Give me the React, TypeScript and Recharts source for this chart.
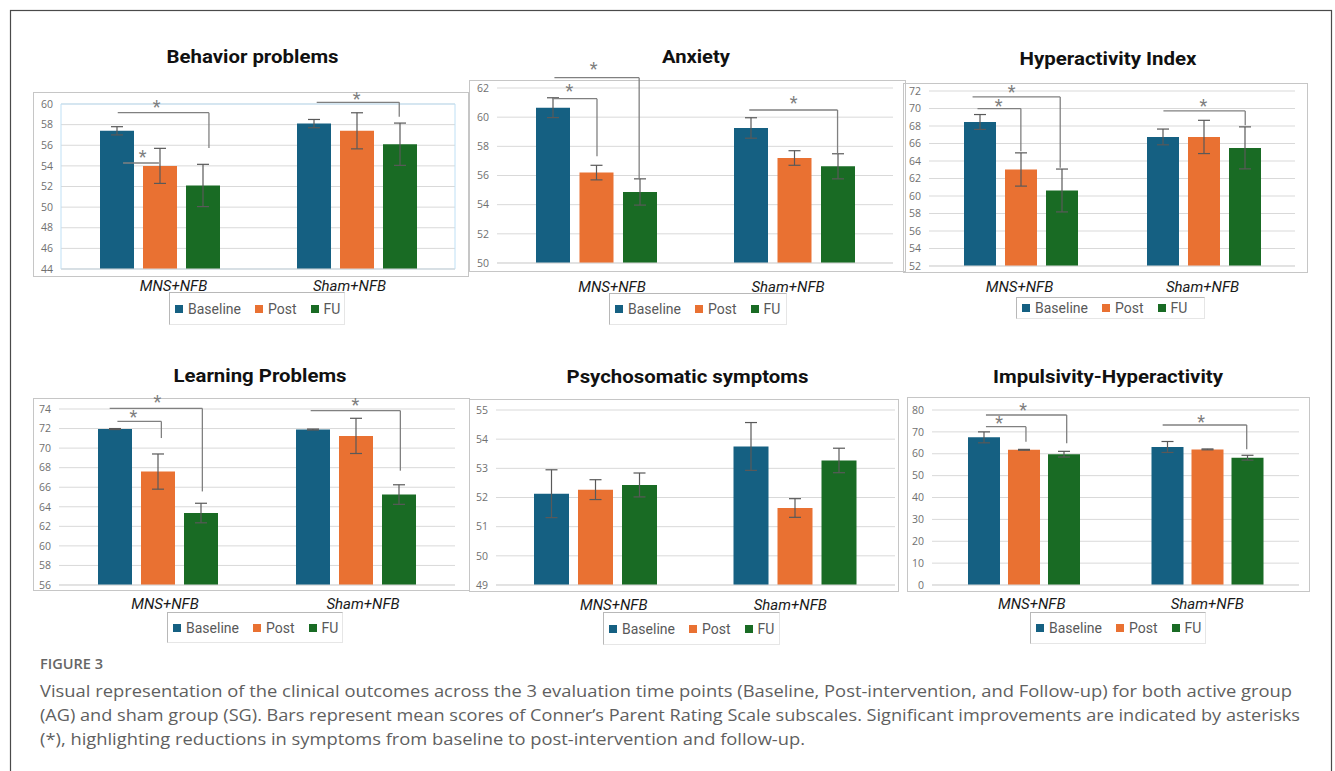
import React from 'react';
import {
  BarChart,
  Bar,
  XAxis,
  YAxis,
  CartesianGrid,
  ErrorBar,
  Legend,
  ReferenceLine,
  ReferenceDot,
  ReferenceArea,
} from 'recharts';

// ---------- shared ----------
const categories = ['MNS+NFB', 'Sham+NFB'];
const seriesNames = ['Baseline', 'Post', 'FU'];
const seriesColors = ['#156082', '#E97132', '#196B24'];

// ---------- Behavior problems ----------
const behaviorBaseline = [57.4, 58.1];
const behaviorBaselineErr = [0.4, 0.4];
const behaviorPost = [54.0, 57.4];
const behaviorPostErr = [1.7, 1.75];
const behaviorFU = [52.1, 56.1];
const behaviorFUErr = [2.05, 2.05];
const behaviorTicks = [44, 46, 48, 50, 52, 54, 56, 58, 60];

// ---------- Anxiety ----------
const anxietyBaseline = [60.65, 59.26];
const anxietyBaselineErr = [0.68, 0.7];
const anxietyPost = [56.2, 57.2];
const anxietyPostErr = [0.5, 0.5];
const anxietyFU = [54.87, 56.63];
const anxietyFUErr = [0.9, 0.86];
const anxietyTicks = [50, 52, 54, 56, 58, 60, 62];

// ---------- Hyperactivity Index ----------
const hyperBaseline = [68.46, 66.75];
const hyperBaselineErr = [0.85, 0.9];
const hyperPost = [63.03, 66.75];
const hyperPostErr = [1.9, 1.9];
const hyperFU = [60.63, 65.5];
const hyperFUErr = [2.45, 2.4];
const hyperTicks = [52, 54, 56, 58, 60, 62, 64, 66, 68, 70, 72];

// ---------- Learning Problems ----------
const learningBaseline = [71.95, 71.9];
const learningBaselineErr = [0.05, 0.05];
const learningPost = [67.6, 71.25];
const learningPostErr = [1.8, 1.8];
const learningFU = [63.36, 65.25];
const learningFUErr = [1.0, 1.0];
const learningTicks = [56, 58, 60, 62, 64, 66, 68, 70, 72, 74];

// ---------- Psychosomatic symptoms ----------
const psychoBaseline = [52.13, 53.75];
const psychoBaselineErr = [0.82, 0.82];
const psychoPost = [52.27, 51.64];
const psychoPostErr = [0.34, 0.32];
const psychoFU = [52.43, 53.27];
const psychoFUErr = [0.41, 0.42];
const psychoTicks = [49, 50, 51, 52, 53, 54, 55];

// ---------- Impulsivity-Hyperactivity ----------
const impulsBaseline = [67.5, 63.1];
const impulsBaselineErr = [2.5, 2.5];
const impulsPost = [61.8, 62.0];
const impulsPostErr = [0.2, 0.2];
const impulsFU = [59.8, 58.2];
const impulsFUErr = [1.3, 1.1];
const impulsTicks = [0, 10, 20, 30, 40, 50, 60, 70, 80];

// significance brackets, in data units (x: 0..2 across the two groups)
type Bracket = { x1: number; x2: number; y: number; drop: number | null; sx: number; sy: number };
const behaviorBrackets: Bracket[] = [
  { x1: 0.288, x2: 0.751, y: 59.16, drop: 55.73, sx: 0.486, sy: 59.9 },
  { x1: 0.315, x2: 0.497, y: 54.28, drop: null, sx: 0.415, sy: 55.05 },
  { x1: 1.298, x2: 1.717, y: 60.16, drop: 58.77, sx: 1.501, sy: 60.65 },
];
const anxietyBrackets: Bracket[] = [
  { x1: 0.29, x2: 0.718, y: 62.71, drop: 55.79, sx: 0.4875, sy: 63.44 },
  { x1: 0.28, x2: 0.505, y: 61.27, drop: 57.32, sx: 0.366, sy: 61.96 },
  { x1: 1.274, x2: 1.72, y: 60.49, drop: 57.5, sx: 1.498, sy: 61.14 },
];
const hyperBrackets: Bracket[] = [
  { x1: 0.238, x2: 0.717, y: 71.32, drop: 63.22, sx: 0.452, sy: 72.08 },
  { x1: 0.265, x2: 0.502, y: 69.99, drop: 65.12, sx: 0.38, sy: 70.56 },
  { x1: 1.281, x2: 1.728, y: 69.72, drop: 68.09, sx: 1.5, sy: 70.48 },
];
const learningBrackets: Bracket[] = [
  { x1: 0.256, x2: 0.724, y: 74.06, drop: 65.57, sx: 0.497, sy: 74.88 },
  { x1: 0.295, x2: 0.517, y: 72.73, drop: 71.03, sx: 0.376, sy: 73.35 },
  { x1: 1.271, x2: 1.724, y: 73.83, drop: 67.69, sx: 1.497, sy: 74.61 },
];
const psychoBrackets: Bracket[] = [];
const impulsBrackets: Bracket[] = [
  { x1: 0.294, x2: 0.734, y: 77.71, drop: 64.78, sx: 0.497, sy: 81.05 },
  { x1: 0.294, x2: 0.512, y: 72.37, drop: 65.51, sx: 0.366, sy: 74.97 },
  { x1: 1.257, x2: 1.715, y: 73.14, drop: 62.03, sx: 1.466, sy: 75.43 },
];

const captionLines = [
  'Visual representation of the clinical outcomes across the 3 evaluation time points (Baseline, Post-intervention, and Follow-up) for both active group',
  '(AG) and sham group (SG). Bars represent mean scores of Conner\u2019s Parent Rating Scale subscales. Significant improvements are indicated by asterisks',
  '(*), highlighting reductions in symptoms from baseline to post-intervention and follow-up.',
];

function buildRows(b: number[], be: number[], p: number[], pe: number[], f: number[], fe: number[]) {
  return categories.map((name, i) => ({
    name,
    baseline: b[i],
    baselineErr: be[i],
    post: p[i],
    postErr: pe[i],
    fu: f[i],
    fuErr: fe[i],
  }));
}

// ---------- layout (positions/styles only) ----------
const panels = [
  {
    title: 'Behavior problems', titleX: 252.5, titleY: 62.5, titleW: 172,
    data: buildRows(behaviorBaseline, behaviorBaselineErr, behaviorPost, behaviorPostErr, behaviorFU, behaviorFUErr),
    ticks: behaviorTicks, brackets: behaviorBrackets,
    plot: { l: 61, t: 104, w: 394, h: 165 }, barSize: 34, barGap: 9,
    tickDx: [14, -7], tickDy: 17,
    legend: { l: 169, t: 292, w: 176, h: 33 },
    frame: { l: 33, t: 92, r: 468, b: 276 }, plotBorder: true,
  },
  {
    title: 'Anxiety', titleX: 696, titleY: 62.5, titleW: 68,
    data: buildRows(anxietyBaseline, anxietyBaselineErr, anxietyPost, anxietyPostErr, anxietyFU, anxietyFUErr),
    ticks: anxietyTicks, brackets: anxietyBrackets,
    plot: { l: 497, t: 88, w: 396, h: 175 }, barSize: 34, barGap: 9.5,
    tickDx: [16, -6], tickDy: 24,
    legend: { l: 609, t: 293, w: 178, h: 32 },
    frame: { l: 469, t: 80, r: 905, b: 271 }, plotBorder: false,
  },
  {
    title: 'Hyperactivity Index', titleX: 1108, titleY: 65, titleW: 177,
    data: buildRows(hyperBaseline, hyperBaselineErr, hyperPost, hyperPostErr, hyperFU, hyperFUErr),
    ticks: hyperTicks, brackets: hyperBrackets,
    plot: { l: 929, t: 91, w: 366, h: 175 }, barSize: 32, barGap: 9,
    tickDx: [-1, -1], tickDy: 21,
    legend: { l: 1016, t: 297, w: 189, h: 22 },
    frame: { l: 903, t: 83, r: 1307, b: 272 }, plotBorder: false,
  },
  {
    title: 'Learning Problems', titleX: 260, titleY: 381.5, titleW: 173,
    data: buildRows(learningBaseline, learningBaselineErr, learningPost, learningPostErr, learningFU, learningFUErr),
    ticks: learningTicks, brackets: learningBrackets,
    plot: { l: 59, t: 409, w: 396, h: 176 }, barSize: 34, barGap: 9,
    tickDx: [7, 7], tickDy: 19,
    legend: { l: 167, t: 612, w: 176, h: 31 },
    frame: { l: 33, t: 398, r: 469, b: 590 }, plotBorder: false,
  },
  {
    title: 'Psychosomatic symptoms', titleX: 687.5, titleY: 383, titleW: 242,
    data: buildRows(psychoBaseline, psychoBaselineErr, psychoPost, psychoPostErr, psychoFU, psychoFUErr),
    ticks: psychoTicks, brackets: psychoBrackets,
    plot: { l: 496, t: 410, w: 399, h: 175 }, barSize: 35, barGap: 9,
    tickDx: [18, -5], tickDy: 20,
    legend: { l: 603, t: 612, w: 177, h: 33 },
    frame: { l: 469, t: 399, r: 898, b: 591 }, plotBorder: false,
  },
  {
    title: 'Impulsivity-Hyperactivity', titleX: 1108, titleY: 383, titleW: 230,
    data: buildRows(impulsBaseline, impulsBaselineErr, impulsPost, impulsPostErr, impulsFU, impulsFUErr),
    ticks: impulsTicks, brackets: impulsBrackets,
    plot: { l: 932, t: 410, w: 367, h: 175 }, barSize: 32, barGap: 8,
    tickDx: [8, 0], tickDy: 19,
    legend: { l: 1030, t: 612, w: 176, h: 32 },
    frame: { l: 907, t: 397, r: 1309, b: 591 }, plotBorder: false,
  },
];

const AXIS_W = 40;
const TOP_M = 40;
const X_H = 30;
const BOTTOM_M = 50;
const RIGHT_M = 10;
const BRACKET_COLOR = '#808080';
// the hidden numeric axis runs 0..1 across the plot; bracket x values are in group units (0..2)
const GROUPS = 2;

const CatTick = (props: any) => {
  const { x, y, payload, index, offsX, offY } = props;
  return (
    <text
      x={x + ((offsX && offsX[index]) || 0)}
      y={y + offY}
      textAnchor="middle"
      dominantBaseline="central"
      fontSize={15}
      fontStyle="italic"
      fill="#1a1a1a"
      fontFamily="Roboto, 'Liberation Sans', sans-serif"
    >
      {payload.value}
    </text>
  );
};

const LegendBox = () => (
  <div
    style={{
      display: 'flex',
      alignItems: 'center',
      height: '100%',
      paddingLeft: 5,
      boxSizing: 'border-box',
    }}
  >
    {seriesNames.map((n, i) => (
      <span key={n} style={{ display: 'flex', alignItems: 'center', marginRight: 14 }}>
        <span style={{ display: 'inline-block', width: 8, height: 8, background: seriesColors[i], marginRight: 5 }} />
        <span style={{ fontSize: 14, color: '#595959', fontFamily: "Roboto, 'Liberation Sans', sans-serif", lineHeight: '16px' }}>
          {n}
        </span>
      </span>
    ))}
  </div>
);

const Star = (p: any) => (
  <text
    x={p.cx}
    y={p.cy + 8}
    textAnchor="middle"
    fontSize={18}
    fill="#7f7f7f"
    fontFamily="Roboto, 'Liberation Sans', sans-serif"
  >
    *
  </text>
);

function Panel({ cfg }: { cfg: any }) {
  const { plot } = cfg;
  const cx = plot.l - AXIS_W;
  const cy = plot.t - TOP_M;
  const cw = plot.w + AXIS_W + RIGHT_M;
  const ch = plot.h + TOP_M + X_H + BOTTOM_M;
  const domain = [cfg.ticks[0], cfg.ticks[cfg.ticks.length - 1]];
  const keys = ['baseline', 'post', 'fu'];
  return (
    <div style={{ position: 'absolute', left: cx, top: cy, width: cw, height: ch }}>
      <BarChart
        width={cw}
        height={ch}
        data={cfg.data}
        margin={{ top: TOP_M, right: RIGHT_M, bottom: BOTTOM_M, left: 0 }}
        barSize={cfg.barSize}
        barGap={cfg.barGap}
      >
        <CartesianGrid vertical={false} stroke="#d9d9d9" />
        <XAxis
          dataKey="name"
          height={X_H}
          tickLine={false}
          axisLine={{ stroke: '#d9d9d9' }}
          tickSize={0}
          tickMargin={0}
          interval={0}
          tick={<CatTick offsX={cfg.tickDx} offY={cfg.tickDy} />}
        />
        <XAxis xAxisId="num" type="number" domain={[0, 1]} hide allowDataOverflow />
        <YAxis
          width={AXIS_W}
          domain={domain}
          ticks={cfg.ticks}
          allowDataOverflow
          axisLine={false}
          tickLine={false}
          tickSize={0}
          tickMargin={8}
          interval={0}
          tick={{ fontSize: 10.5, fill: '#707070', fontFamily: "'Open Sans', 'Liberation Sans', sans-serif" }}
        />
        {cfg.plotBorder && (
          <ReferenceArea
            xAxisId="num"
            x1={0}
            x2={1}
            y1={domain[0]}
            y2={domain[1]}
            fill="none"
            fillOpacity={0}
            stroke="#bfe0f5"
            ifOverflow="visible"
          />
        )}
        {keys.map((k, i) => (
          <Bar key={k} dataKey={k} name={seriesNames[i]} fill={seriesColors[i]} isAnimationActive={false}>
            <ErrorBar dataKey={k + 'Err'} width={6} stroke="#595959" strokeWidth={1.2} />
          </Bar>
        ))}
        {cfg.brackets.map((b: Bracket, i: number) => (
          <ReferenceLine
            key={'h' + i}
            xAxisId="num"
            segment={[{ x: b.x1 / GROUPS, y: b.y }, { x: b.x2 / GROUPS, y: b.y }]}
            stroke={BRACKET_COLOR}
            strokeWidth={1.3}
            ifOverflow="visible"
          />
        ))}
        {cfg.brackets
          .filter((b: Bracket) => b.drop !== null)
          .map((b: Bracket, i: number) => (
            <ReferenceLine
              key={'v' + i}
              xAxisId="num"
              segment={[{ x: b.x2 / GROUPS, y: b.y }, { x: b.x2 / GROUPS, y: b.drop as number }]}
              stroke={BRACKET_COLOR}
              strokeWidth={1.3}
              ifOverflow="visible"
            />
          ))}
        {cfg.brackets.map((b: Bracket, i: number) => (
          <ReferenceDot
            key={'s' + i}
            xAxisId="num"
            x={b.sx / GROUPS}
            y={b.sy}
            r={0}
            ifOverflow="visible"
            shape={Star}
          />
        ))}
        <Legend
          content={<LegendBox />}
          layout="horizontal"
          verticalAlign="middle"
          align="center"
          wrapperStyle={{
            left: cfg.legend.l - cx,
            top: cfg.legend.t - cy,
            width: cfg.legend.w,
            height: cfg.legend.h,
            borderTop: '1px solid #b8b8b8',
            borderLeft: '1px solid #b8b8b8',
            borderRight: '1px solid #e6e6e6',
            borderBottom: '1px solid #e6e6e6',
            boxSizing: 'border-box',
            background: '#fff',
            margin: 0,
            padding: 0,
          }}
        />
      </BarChart>
    </div>
  );
}

export default function App() {
  return (
    <div
      style={{
        position: 'absolute',
        left: 0,
        top: 0,
        width: 1335,
        height: 771,
        background: '#fff',
        overflow: 'hidden',
      }}
    >
      <svg width={1335} height={771} style={{ position: 'absolute', left: 0, top: 0 }}>
        <rect x={10.5} y={10.5} width={1321} height={820} fill="none" stroke="#4a4a4a" strokeWidth={1.2} />
        {panels.map((p, i) => (
          <rect
            key={'f' + i}
            x={p.frame.l + 0.5}
            y={p.frame.t + 0.5}
            width={p.frame.r - p.frame.l}
            height={p.frame.b - p.frame.t}
            fill="none"
            stroke="#c6c6c6"
            strokeWidth={1}
          />
        ))}
        {panels.map((p, i) => (
          <text
            key={'t' + i}
            x={p.titleX - p.titleW / 2}
            y={p.titleY}
            textLength={p.titleW}
            lengthAdjust="spacingAndGlyphs"
            fontSize={19}
            fontWeight="bold"
            fill="#111"
            fontFamily="Roboto, 'Liberation Sans', sans-serif"
          >
            {p.title}
          </text>
        ))}
        <text
          x={40}
          y={669}
          textLength={63}
          lengthAdjust="spacingAndGlyphs"
          fontSize={14.5}
          fontWeight={600}
          fill="#666"
          fontFamily="'Open Sans', 'Liberation Sans', sans-serif"
        >
          FIGURE 3
        </text>
        {captionLines.map((line, i) => (
          <text
            key={'c' + i}
            x={40}
            y={697 + i * 24}
            textLength={[1252, 1260, 765][i]}
            lengthAdjust="spacingAndGlyphs"
            fontSize={16}
            fill="#5f5f5f"
            fontFamily="'Open Sans', 'Liberation Sans', sans-serif"
          >
            {line}
          </text>
        ))}
      </svg>
      {panels.map((p, i) => (
        <Panel key={i} cfg={p} />
      ))}
    </div>
  );
}
